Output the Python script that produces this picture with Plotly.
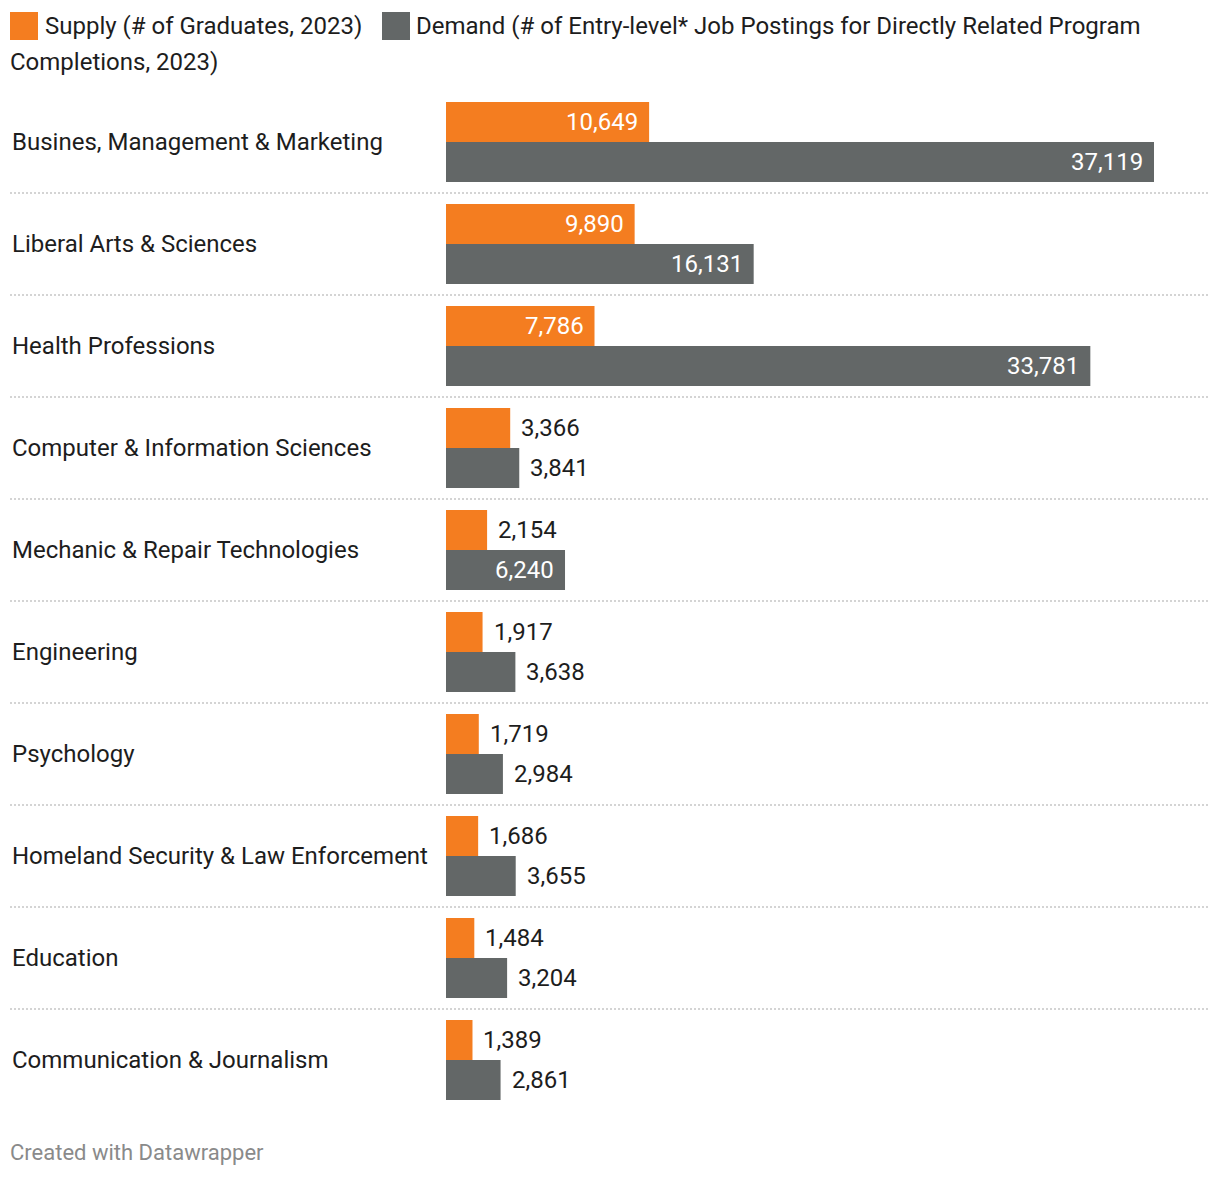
import plotly.graph_objects as go

categories = [
    "Busines, Management & Marketing",
    "Liberal Arts & Sciences",
    "Health Professions",
    "Computer & Information Sciences",
    "Mechanic & Repair Technologies",
    "Engineering",
    "Psychology",
    "Homeland Security & Law Enforcement",
    "Education",
    "Communication & Journalism",
]
supply = [10649, 9890, 7786, 3366, 2154, 1917, 1719, 1686, 1484, 1389]
demand = [37119, 16131, 33781, 3841, 6240, 3638, 2984, 3655, 3204, 2861]

supply_name = "Supply (# of Graduates, 2023)"
demand_name = "Demand (# of Entry-level* Job Postings for Directly Related Program Completions, 2023)"

ORANGE = "#F47D20"
GRAY = "#636767"
TEXT = "#1d1d1d"
FONT = "Roboto"
FS = 24

W, H = 1220, 1178
ML, MR, MT, MB = 446, 12, 91, 67
PW, PH = W - ML - MR, H - MT - MB


def px_x(x):
    return (x - ML) / PW


def px_y(y):
    return 1 + (MT - y) / PH


fig = go.Figure()
fig.add_trace(go.Bar(y=categories, x=supply, orientation="h", name=supply_name,
                     marker=dict(color=ORANGE, line=dict(width=0)), hoverinfo="x+y"))
fig.add_trace(go.Bar(y=categories, x=demand, orientation="h", name=demand_name,
                     marker=dict(color=GRAY, line=dict(width=0)), hoverinfo="x+y"))

annotations = []
INSIDE_MIN = 5000
for series, shift in ((supply, 20), (demand, -20)):
    for cat, v in zip(categories, series):
        inside = v > INSIDE_MIN
        annotations.append(dict(
            x=v, y=cat, xref="x", yref="y", text=f"{v:,}", showarrow=False,
            xanchor="right" if inside else "left", yanchor="middle",
            xshift=-9 if inside else 9, yshift=shift,
            font=dict(family=FONT, size=FS, color="white" if inside else TEXT),
        ))

for cat in categories:
    annotations.append(dict(
        x=px_x(10), y=cat, xref="paper", yref="y", text=cat, showarrow=False,
        xanchor="left", yanchor="middle",
        font=dict(family=FONT, size=FS, color=TEXT),
    ))

# legend (wrapped like the original)
annotations += [
    dict(x=px_x(43), y=px_y(26), xref="paper", yref="paper", text=supply_name,
         showarrow=False, xanchor="left", yanchor="middle",
         font=dict(family=FONT, size=FS, color=TEXT)),
    dict(x=px_x(414), y=px_y(26), xref="paper", yref="paper",
         text="Demand (# of Entry-level* Job Postings for Directly Related Program",
         showarrow=False, xanchor="left", yanchor="middle",
         font=dict(family=FONT, size=FS, color=TEXT)),
    dict(x=px_x(8), y=px_y(62), xref="paper", yref="paper",
         text="Completions, 2023)",
         showarrow=False, xanchor="left", yanchor="middle",
         font=dict(family=FONT, size=FS, color=TEXT)),
    dict(x=px_x(8), y=px_y(1152), xref="paper", yref="paper",
         text="Created with Datawrapper",
         showarrow=False, xanchor="left", yanchor="middle",
         font=dict(family=FONT, size=22, color="#8a8a8a")),
]

shapes = [
    dict(type="rect", xref="paper", yref="paper", x0=px_x(10), x1=px_x(38),
         y0=px_y(40), y1=px_y(12), fillcolor=ORANGE, line=dict(width=0)),
    dict(type="rect", xref="paper", yref="paper", x0=px_x(382), x1=px_x(410),
         y0=px_y(40), y1=px_y(12), fillcolor=GRAY, line=dict(width=0)),
]
for i in range(len(categories) - 1):
    shapes.append(dict(type="line", xref="paper", yref="y", x0=px_x(10), x1=1,
                       y0=i + 0.5, y1=i + 0.5,
                       line=dict(color="#d4d4d4", width=2, dash="2px,2px")))

fig.update_layout(
    width=W, height=H,
    margin=dict(l=ML, r=MR, t=MT, b=MB, pad=0),
    paper_bgcolor="white", plot_bgcolor="white",
    barmode="group", bargap=0.216, bargroupgap=0.0,
    showlegend=False,
    xaxis=dict(range=[0, 39950], visible=False, fixedrange=True),
    yaxis=dict(autorange="reversed", showticklabels=False, showgrid=False,
               zeroline=False, ticks="", fixedrange=True),
    font=dict(family=FONT, size=FS, color=TEXT),
    annotations=annotations, shapes=shapes,
)

fig.write_html("out.html", config={"displayModeBar": False},
               post_script="document.body.style.margin='0';")
